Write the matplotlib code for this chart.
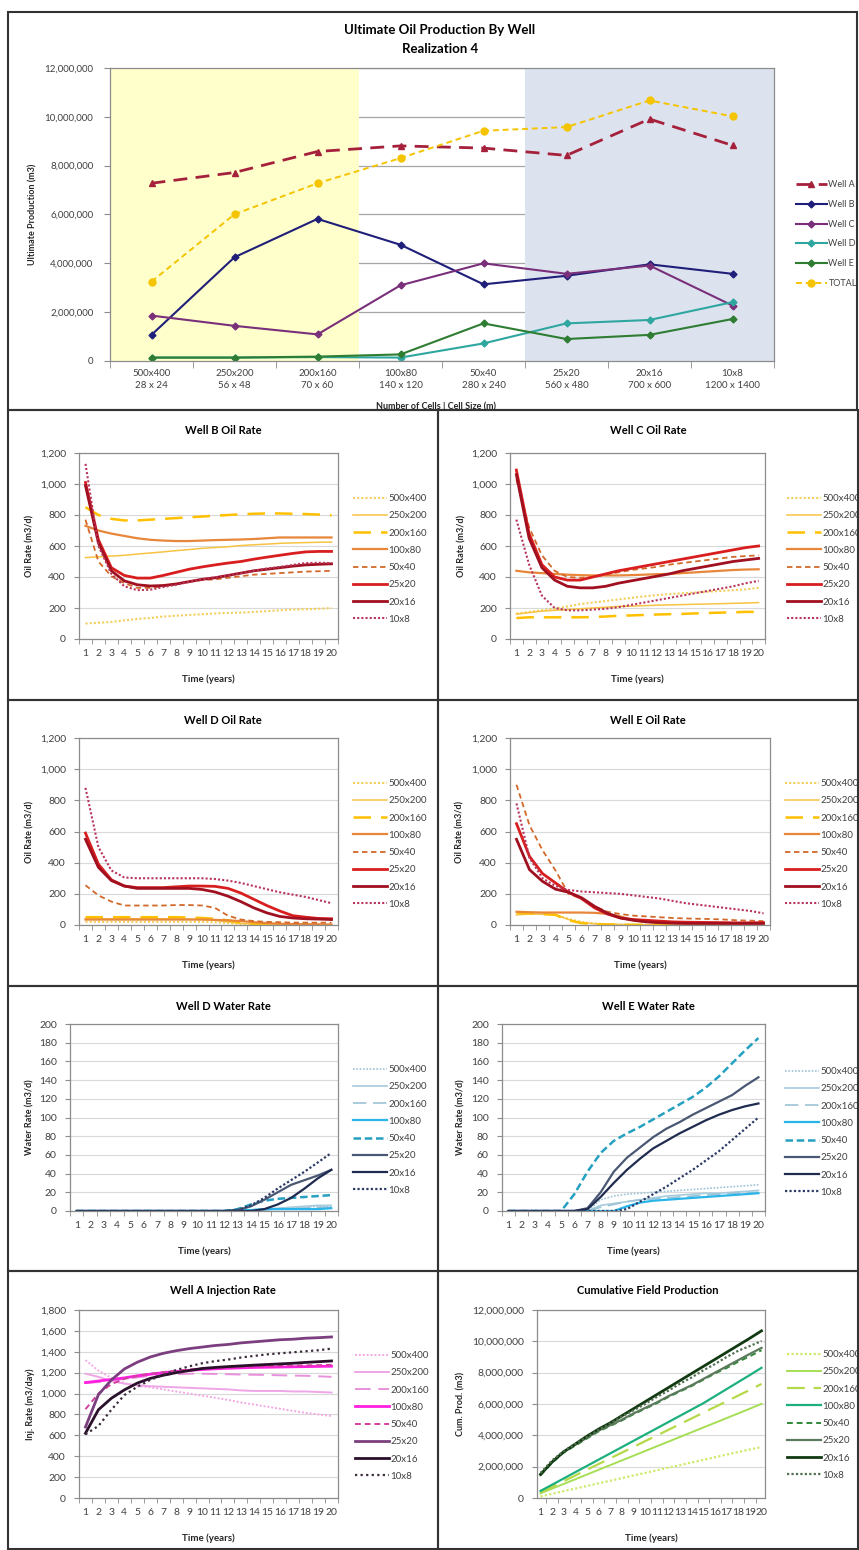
import numpy as np
import matplotlib
matplotlib.use('Agg')
import matplotlib.pyplot as plt
from matplotlib.patches import Rectangle
from matplotlib.ticker import FuncFormatter

plt.rcParams['font.family'] = ['Lato', 'DejaVu Sans']

W, H = 859, 1550

# ---- ultimate production by well (millions of m3) ----
grid_dims = ['500x400', '250x200', '200x160', '100x80', '50x40', '25x20', '20x16', '10x8']
cell_sizes = ['28 x 24', '56 x 48', '70 x 60', '140 x 120', '280 x 240', '560 x 480', '700 x 600', '1200 x 1400']
well_a = [7.28, 7.72, 8.58, 8.81, 8.72, 8.42, 9.91, 8.83]
well_b = [1.07, 4.25, 5.82, 4.76, 3.14, 3.49, 3.96, 3.57]
well_c = [1.86, 1.44, 1.09, 3.10, 4.00, 3.57, 3.91, 2.27]
well_d = [0.14, 0.14, 0.16, 0.14, 0.72, 1.54, 1.68, 2.41]
well_e = [0.14, 0.14, 0.18, 0.27, 1.54, 0.90, 1.07, 1.72]
total = [3.25, 6.01, 7.28, 8.31, 9.43, 9.58, 10.67, 10.02]

years = list(range(1, 21))

# rows: 500x400, 250x200, 200x160, 100x80, 50x40, 25x20, 20x16, 10x8
well_b_oil = [
    [100, 105, 110, 120, 130, 135, 145, 150, 155, 160, 165, 168, 170, 175, 180, 185, 190, 192, 195, 200],
    [525, 530, 535, 540, 548, 555, 562, 570, 577, 585, 590, 595, 603, 608, 612, 617, 620, 622, 624, 625],
    [850, 800, 775, 765, 765, 770, 775, 780, 785, 790, 795, 800, 805, 808, 810, 810, 808, 806, 803, 798],
    [730, 700, 680, 665, 650, 640, 635, 632, 632, 635, 638, 640, 642, 645, 650, 655, 655, 655, 655, 655],
    [770, 500, 405, 360, 330, 330, 340, 355, 370, 380, 385, 395, 405, 415, 420, 425, 430, 435, 437, 440],
    [1010, 640, 460, 410, 393, 393, 410, 430, 450, 465, 478, 490, 500, 515, 528, 540, 552, 562, 565, 565],
    [990, 620, 440, 375, 350, 342, 345, 355, 370, 385, 395, 410, 425, 440, 450, 460, 470, 478, 482, 485],
    [1130, 600, 420, 340, 315, 318, 335, 350, 368, 385, 398, 410, 425, 440, 455, 465, 478, 490, 492, 490],
]
well_c_oil = [
    [165, 175, 185, 195, 210, 225, 235, 245, 255, 265, 275, 283, 290, 295, 300, 305, 310, 315, 320, 330],
    [160, 170, 180, 185, 190, 195, 200, 205, 210, 212, 215, 218, 220, 222, 224, 226, 228, 230, 232, 235],
    [135, 140, 140, 140, 140, 140, 142, 145, 150, 152, 155, 158, 160, 162, 165, 168, 170, 172, 175, 175],
    [440, 430, 425, 420, 415, 412, 410, 410, 410, 412, 415, 418, 420, 425, 430, 435, 440, 445, 448, 450],
    [1030, 720, 540, 440, 400, 395, 400, 415, 430, 445, 455, 465, 480, 490, 500, 510, 520, 530, 535, 540],
    [1090, 680, 480, 400, 380, 380, 400, 420, 440, 455, 470, 485, 500, 515, 530, 545, 560, 575, 590, 600],
    [1060, 650, 460, 380, 340, 330, 330, 340, 360, 375, 390, 405, 420, 440, 455, 470, 485, 500, 510, 520],
    [770, 480, 280, 200, 185, 185, 190, 195, 205, 220, 235, 250, 265, 280, 295, 310, 325, 340, 360, 375],
]
well_d_oil = [
    [20, 20, 20, 20, 20, 20, 20, 20, 20, 20, 18, 12, 6, 3, 1, 0, 0, 0, 0, 0],
    [40, 40, 40, 40, 40, 40, 40, 40, 38, 35, 30, 20, 10, 5, 3, 2, 1, 1, 0, 0],
    [50, 50, 50, 50, 50, 50, 50, 50, 48, 45, 40, 30, 15, 8, 5, 3, 2, 1, 1, 0],
    [35, 35, 35, 35, 35, 35, 35, 35, 35, 35, 33, 30, 25, 18, 12, 8, 6, 5, 4, 3],
    [255, 190, 150, 125, 125, 125, 125, 128, 128, 125, 110, 60, 35, 25, 20, 18, 15, 15, 15, 15],
    [590, 390, 290, 250, 240, 240, 240, 245, 250, 250, 248, 235, 205, 165, 125, 90, 60, 50, 42, 40],
    [550, 370, 285, 250, 235, 235, 235, 235, 235, 228, 212, 185, 150, 110, 78, 55, 45, 40, 38, 35],
    [880, 500, 350, 305, 300, 300, 300, 300, 300, 300, 295, 285, 270, 250, 230, 210, 195, 180, 160, 140],
]
well_e_oil = [
    [75, 75, 70, 65, 40, 20, 10, 5, 3, 2, 1, 1, 0, 0, 0, 0, 0, 0, 0, 0],
    [65, 70, 70, 65, 35, 15, 8, 5, 3, 2, 1, 1, 0, 0, 0, 0, 0, 0, 0, 0],
    [80, 75, 70, 65, 30, 12, 6, 3, 2, 1, 1, 0, 0, 0, 0, 0, 0, 0, 0, 0],
    [85, 82, 80, 80, 80, 80, 78, 72, 55, 30, 20, 15, 12, 10, 8, 7, 6, 5, 5, 5],
    [900, 640, 480, 350, 200, 170, 120, 85, 70, 60, 55, 50, 45, 42, 40, 38, 35, 30, 28, 25],
    [650, 440, 330, 270, 210, 170, 110, 70, 45, 35, 30, 25, 20, 18, 17, 16, 15, 14, 14, 15],
    [550, 355, 280, 230, 210, 175, 120, 75, 45, 30, 20, 15, 12, 10, 10, 10, 10, 10, 10, 10],
    [780, 430, 300, 250, 225, 215, 210, 205, 200, 190, 180, 170, 155, 140, 130, 120, 110, 100, 90, 75],
]
well_d_water = [
    [0, 0, 0, 0, 0, 0, 0, 0, 0, 0, 0, 0, 0, 0, 1, 2, 3, 4, 5, 5],
    [0, 0, 0, 0, 0, 0, 0, 0, 0, 0, 0, 0, 1, 1, 2, 3, 4, 5, 6, 6],
    [0, 0, 0, 0, 0, 0, 0, 0, 0, 0, 0, 0, 0, 1, 1, 2, 3, 3, 4, 4],
    [0, 0, 0, 0, 0, 0, 0, 0, 0, 0, 0, 0, 1, 1, 2, 2, 2, 2, 2, 3],
    [0, 0, 0, 0, 0, 0, 0, 0, 0, 0, 0, 0, 2, 7, 11, 13, 14, 15, 16, 17],
    [0, 0, 0, 0, 0, 0, 0, 0, 0, 0, 0, 0, 1, 5, 12, 20, 28, 33, 38, 44],
    [0, 0, 0, 0, 0, 0, 0, 0, 0, 0, 0, 0, 0, 0, 2, 7, 14, 24, 35, 44],
    [0, 0, 0, 0, 0, 0, 0, 0, 0, 0, 0, 0, 1, 6, 14, 24, 33, 42, 52, 62],
]
well_e_water = [
    [0, 0, 0, 0, 0, 0, 0, 12, 16, 18, 19, 20, 21, 22, 23, 24, 25, 26, 27, 28],
    [0, 0, 0, 0, 0, 0, 0, 6, 8, 10, 12, 14, 16, 17, 18, 19, 19, 20, 21, 22],
    [0, 0, 0, 0, 0, 0, 0, 4, 7, 10, 12, 13, 14, 15, 16, 17, 18, 19, 19, 20],
    [0, 0, 0, 0, 0, 0, 0, 0, 0, 5, 9, 11, 12, 13, 14, 15, 16, 17, 18, 19],
    [0, 0, 0, 0, 0, 18, 42, 62, 75, 83, 90, 98, 106, 114, 122, 132, 144, 158, 172, 185],
    [0, 0, 0, 0, 0, 0, 3, 20, 42, 57, 68, 79, 88, 95, 103, 110, 117, 124, 134, 143],
    [0, 0, 0, 0, 0, 0, 2, 15, 30, 44, 56, 67, 75, 83, 90, 97, 103, 108, 112, 115],
    [0, 0, 0, 0, 0, 0, 0, 0, 0, 2, 10, 18, 26, 35, 44, 54, 64, 76, 88, 100],
]
well_a_inj = [
    [1320, 1220, 1150, 1100, 1070, 1060, 1040, 1020, 1000, 980, 960, 940, 915, 895, 875, 855, 835, 815, 800, 785],
    [1190, 1160, 1120, 1095, 1080, 1070, 1065, 1060, 1055, 1050, 1045, 1040, 1030, 1025, 1025, 1025, 1020, 1020, 1015, 1010],
    [1100, 1110, 1125, 1140, 1155, 1170, 1180, 1185, 1190, 1190, 1188, 1185, 1182, 1180, 1178, 1175, 1172, 1170, 1165, 1160],
    [1105, 1120, 1135, 1150, 1170, 1185, 1200, 1212, 1222, 1230, 1237, 1242, 1246, 1250, 1252, 1254, 1256, 1258, 1260, 1262],
    [850, 1000, 1090, 1140, 1170, 1190, 1205, 1220, 1230, 1238, 1245, 1250, 1255, 1260, 1262, 1265, 1268, 1270, 1272, 1275],
    [680, 990, 1130, 1235, 1300, 1350, 1385, 1410, 1430, 1445, 1460, 1470, 1485, 1495, 1505, 1515, 1520, 1530, 1535, 1542],
    [620, 845, 955, 1035, 1100, 1145, 1175, 1200, 1220, 1240, 1250, 1258, 1265, 1272, 1278, 1284, 1290, 1298, 1305, 1312],
    [610, 690, 845, 985, 1065, 1130, 1180, 1225, 1260, 1290, 1310, 1325, 1345, 1360, 1375, 1385, 1395, 1405, 1415, 1430],
]
# cumulative field production, millions of m3
cum_field = [
    [0.10, 0.27, 0.44, 0.60, 0.77, 0.94, 1.10, 1.27, 1.44, 1.60, 1.77, 1.94, 2.10, 2.27, 2.44, 2.60, 2.77, 2.94, 3.10, 3.25],
    [0.30, 0.60, 0.90, 1.20, 1.50, 1.80, 2.10, 2.40, 2.70, 3.00, 3.30, 3.60, 3.90, 4.20, 4.50, 4.80, 5.10, 5.40, 5.70, 6.01],
    [0.35, 0.71, 1.08, 1.44, 1.81, 2.17, 2.53, 2.90, 3.26, 3.63, 3.99, 4.35, 4.72, 5.08, 5.45, 5.81, 6.17, 6.54, 6.90, 7.28],
    [0.45, 0.85, 1.25, 1.65, 2.05, 2.45, 2.85, 3.25, 3.65, 4.05, 4.45, 4.85, 5.25, 5.65, 6.05, 6.50, 6.95, 7.40, 7.85, 8.31],
    [1.45, 2.25, 2.90, 3.35, 3.80, 4.25, 4.60, 4.95, 5.35, 5.70, 6.05, 6.45, 6.80, 7.15, 7.55, 7.95, 8.30, 8.70, 9.05, 9.43],
    [1.50, 2.30, 2.95, 3.40, 3.85, 4.30, 4.65, 5.00, 5.40, 5.75, 6.10, 6.50, 6.85, 7.20, 7.60, 8.00, 8.40, 8.80, 9.20, 9.58],
    [1.50, 2.30, 2.95, 3.45, 3.95, 4.40, 4.80, 5.25, 5.70, 6.15, 6.60, 7.05, 7.50, 7.95, 8.40, 8.85, 9.30, 9.75, 10.20, 10.67],
    [1.60, 2.40, 3.00, 3.45, 3.90, 4.35, 4.75, 5.20, 5.60, 6.00, 6.45, 6.85, 7.30, 7.70, 8.15, 8.55, 9.00, 9.40, 9.70, 10.02],
]

# line styles (colour, dash, width) per grid, one set per chart family
dot = (0, (1, 1))
oil_styles = [('#F2CF5B', dot, 1.5), ('#F6C342', '-', 1.1), ('#FFC000', (0, (7, 4)), 1.8),
              ('#E8863A', '-', 1.6), ('#D2692A', (0, (3, 2)), 1.3), ('#D81E1E', '-', 2.0),
              ('#A01020', '-', 2.0), ('#B8345A', dot, 1.5)]
water_styles = [('#9DC3D6', dot, 1.2), ('#A6CBDD', '-', 1.2), ('#9DC3D6', (0, (8, 4)), 1.2),
                ('#29B5E8', '-', 1.6), ('#25A0C0', (0, (3, 1.5)), 1.8), ('#4A5874', '-', 1.6),
                ('#1F2B4F', '-', 1.6), ('#2C3A66', dot, 1.6)]
inj_styles = [('#F5A8E5', dot, 1.4), ('#EFA6E6', '-', 1.4), ('#E890DC', (0, (8, 4)), 1.4),
              ('#FF1FE0', '-', 2.0), ('#D2409E', (0, (3, 2)), 1.4), ('#7B3F7F', '-', 2.0),
              ('#2A102A', '-', 2.0), ('#3B2A3B', (0, (1, 1.5)), 1.6)]
cum_styles = [('#CDEA6A', dot, 1.6), ('#A6DE55', '-', 1.4), ('#B6D94A', (0, (8, 4)), 1.6),
              ('#1EAF7E', '-', 1.6), ('#2F8A3A', (0, (3, 2)), 1.4), ('#5C7A5C', '-', 1.6),
              ('#123A12', '-', 2.0), ('#4F6F4F', dot, 1.6)]

TXT = '#404040'
fig = plt.figure(figsize=(W / 100, H / 100), dpi=100)


def fx(x):
    return x / W


def fy(y):
    return 1 - y / H


def px_axes(x0, y0, x1, y1):
    return fig.add_axes([fx(x0), fy(y1), (x1 - x0) / W, (y1 - y0) / H])


def frame(x0, y0, x1, y1, lw=1.5):
    fig.add_artist(Rectangle((fx(x0), fy(y1)), (x1 - x0) / W, (y1 - y0) / H,
                             transform=fig.transFigure, fill=False, ec='#333333', lw=lw))


def style_axes(ax):
    for s in ax.spines.values():
        s.set_color('#8C8C8C')
        s.set_linewidth(0.9)
    ax.set_axisbelow(True)


comma = FuncFormatter(lambda v, p: f'{v:,.0f}')

# ---- top chart ----
frame(8, 12, 857, 410)
ax = px_axes(110, 68, 774, 361)
cats = np.arange(len(grid_dims))
ax.axvspan(-0.5, 2.5, color='#FFFFCC', lw=0)
ax.axvspan(4.5, 7.5, color='#DDE3EE', lw=0)
scale = 1e6
ax.plot(cats, np.array(well_a) * scale, color='#A5213B', ls=(0, (5, 3)), lw=2.0, marker='^', ms=5, label='Well A')
ax.plot(cats, np.array(well_b) * scale, color='#1F1F7A', lw=1.5, marker='D', ms=3.5, label='Well B')
ax.plot(cats, np.array(well_c) * scale, color='#7A2F7A', lw=1.5, marker='D', ms=3.5, label='Well C')
ax.plot(cats, np.array(well_d) * scale, color='#2FA7A0', lw=1.5, marker='D', ms=3.5, label='Well D')
ax.plot(cats, np.array(well_e) * scale, color='#2E7D32', lw=1.5, marker='D', ms=3.5, label='Well E')
ax.plot(cats, np.array(total) * scale, color='#F5C400', ls=(0, (3, 2)), lw=1.4, marker='o', ms=5, label='TOTAL')
ax.set_xlim(-0.5, 7.5)
ax.set_ylim(0, 12e6)
ax.set_yticks(np.arange(0, 12e6 + 1, 2e6))
ax.yaxis.set_major_formatter(comma)
ax.set_xticks(cats)
ax.set_xticklabels([f'{g}\n{c}' for g, c in zip(grid_dims, cell_sizes)], linespacing=1.45)
ax.set_xticks(np.arange(-0.5, 7.6, 1), minor=True)
ax.tick_params(axis='x', which='major', length=0, pad=6, labelsize=7, labelcolor=TXT)
ax.tick_params(axis='x', which='minor', length=5, color='#8C8C8C')
ax.tick_params(axis='y', length=4, pad=8, labelsize=7, labelcolor=TXT, color='#8C8C8C')
ax.grid(axis='y', color='#A6A6A6', lw=0.9)
style_axes(ax)
fig.text(fx(440), fy(30), 'Ultimate Oil Production By Well', ha='center', va='center', fontsize=9.5, fontweight='bold')
fig.text(fx(440), fy(49), 'Realization 4', ha='center', va='center', fontsize=9.5, fontweight='bold')
fig.text(fx(436), fy(406), 'Number of Cells | Cell Size (m)', ha='center', va='center', fontsize=6.5, fontweight='bold', color='#262626')
fig.text(fx(33), fy(214), 'Ultimate Production (m3)', ha='center', va='center', rotation=90, fontsize=6.5, fontweight='bold', color='#262626')
ax.legend(loc='upper left', bbox_to_anchor=(fx(796), fy(180)), bbox_transform=fig.transFigure,
          frameon=False, fontsize=6.5, handlelength=3.4, handletextpad=0.2, labelspacing=1.2,
          borderpad=0, borderaxespad=0, labelcolor=TXT)


def panel(plot_box, panel_box, title, series, styles, ymax, ystep, ylabel, ylabel_x,
          leg_xy, xlim=(0.5, 20.5), factor=1.0):
    x0, y0, x1, y1 = plot_box
    px0, py0, px1, py1 = panel_box
    frame(px0, py0, px1, py1)
    ax = px_axes(x0, y0, x1, y1)
    for vals, lab, (c, ls, lw) in zip(series, grid_dims, styles):
        ax.plot(years, np.array(vals) * factor, color=c, ls=ls, lw=lw, label=lab)
    ax.set_xlim(*xlim)
    ax.set_ylim(0, ymax)
    ax.set_yticks(np.arange(0, ymax + ystep / 2, ystep))
    ax.yaxis.set_major_formatter(comma)
    ax.set_xticks(years)
    ax.set_xticks([t for t in np.arange(0.5, 20.6, 1) if xlim[0] <= t <= xlim[1]], minor=True)
    ax.tick_params(axis='x', which='major', length=0, pad=7, labelsize=7.5, labelcolor=TXT)
    ax.tick_params(axis='x', which='minor', length=3.5, color='#8C8C8C')
    ax.tick_params(axis='y', length=3.5, pad=6, labelsize=7.5, labelcolor=TXT, color='#8C8C8C')
    ax.grid(axis='y', color='#D9D9D9', lw=0.8)
    style_axes(ax)
    fig.text(fx((px0 + px1) / 2), fy(py0 + 20), title, ha='center', va='center', fontsize=8, fontweight='bold')
    fig.text(fx((x0 + x1) / 2), fy(y1 + 40), 'Time (years)', ha='center', va='center', fontsize=7, fontweight='bold', color='#262626')
    fig.text(fx(ylabel_x), fy((y0 + y1) / 2), ylabel, ha='center', va='center', rotation=90,
             fontsize=6.5, fontweight='bold', color='#262626')
    lx, ly = leg_xy
    ax.legend(loc='upper left', bbox_to_anchor=(fx(lx), fy(ly - 6)), bbox_transform=fig.transFigure,
              frameon=False, fontsize=7, handlelength=3.5, handletextpad=0.15, labelspacing=0.85,
              borderpad=0, borderaxespad=0, labelcolor=TXT)
    return ax


L, M, R = 8, 438, 858
panel((79, 453, 338, 639), (L, 410, M, 700), 'Well B Oil Rate', well_b_oil, oil_styles,
      1200, 200, 'Oil Rate (m3/d)', 30, (353, 500))
panel((510, 453, 765, 639), (M, 410, R, 700), 'Well C Oil Rate', well_c_oil, oil_styles,
      1200, 200, 'Oil Rate (m3/d)', 462, (787, 500))
panel((79, 738, 338, 925), (L, 700, M, 986), 'Well D Oil Rate', well_d_oil, oil_styles,
      1200, 200, 'Oil Rate (m3/d)', 30, (353, 785))
panel((510, 738, 770, 925), (M, 700, R, 986), 'Well E Oil Rate', well_e_oil, oil_styles,
      1200, 200, 'Oil Rate (m3/d)', 460, (785, 785))
panel((70, 1024, 338, 1211), (L, 986, M, 1271), 'Well D Water Rate', well_d_water, water_styles,
      200, 20, 'Water Rate (m3/d)', 30, (353, 1071))
panel((502, 1024, 765, 1211), (M, 986, R, 1271), 'Well E Water Rate', well_e_water, water_styles,
      200, 20, 'Water Rate (m3/d)', 461, (785, 1073))
panel((79, 1310, 338, 1498), (L, 1271, M, 1549), 'Well A Injection Rate', well_a_inj, inj_styles,
      1800, 200, 'Inj. Rate (m3/day)', 30, (355, 1357))
panel((537, 1310, 765, 1498), (M, 1271, R, 1549), 'Cumulative Field Production', cum_field, cum_styles,
      12e6, 2e6, 'Cum. Prod. (m3)', 461, (787, 1356), xlim=(0.7, 20.3), factor=1e6)

fig.savefig('out.png', dpi=100)
